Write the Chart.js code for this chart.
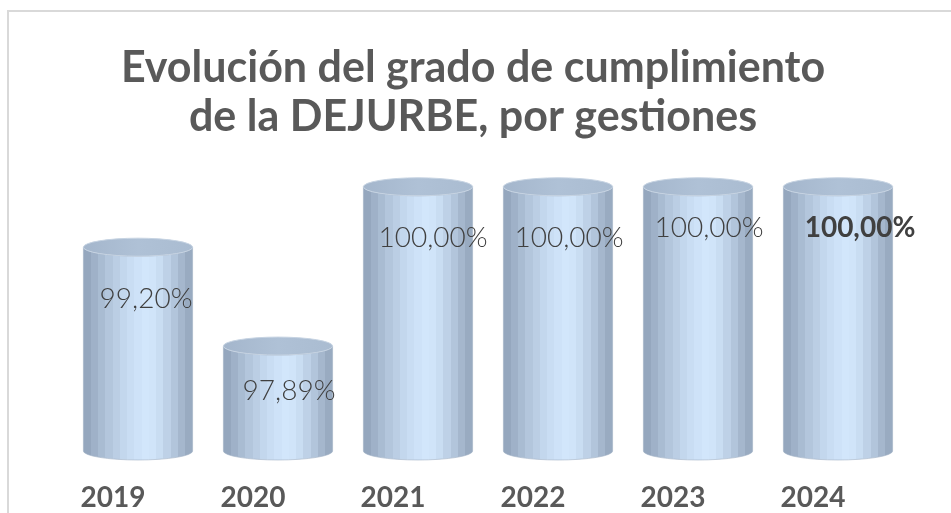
<!DOCTYPE html>
<html><head><meta charset="utf-8">
<script src="https://cdn.jsdelivr.net/npm/chart.js@4.4.1/dist/chart.umd.min.js"></script>
<style>
html,body{margin:0;padding:0;background:#fff;}
#wrap{position:relative;width:951px;height:513px;overflow:hidden;}
#frame{position:absolute;left:7px;top:10px;width:960px;height:520px;border-left:2px solid #d9d9d9;border-top:2px solid #d9d9d9;}
canvas{position:absolute;left:0;top:0;}
</style></head>
<body><div id="wrap"><div id="frame"></div><canvas id="c" width="951" height="513"></canvas></div>
<script>
// ---- data ----
const categories = ['2019', '2020', '2021', '2022', '2023', '2024'];
const values = [99.20, 97.89, 100.00, 100.00, 100.00, 100.00];
const titleLines = ['Evolución del grado de cumplimiento', 'de la DEJURBE, por gestiones'];
const yMin = 96.5;
const yMax = 100.5;

// ---- styling ----
const labelOffsets = [[8, 50], [11, 43], [15, 49], [11, 49], [11, 39], [22, 39]]; // label centre relative to cylinder top
const labelBold = [false, false, false, false, false, true];
const depthShift = 25;  // 3D offset of cylinders to the right of the category label
const bands = ['#95a7be','#9fb1c8','#a9bcd2','#b3c6dc','#bbcee4','#c3d7ed','#c9ddf3','#cee2f8','#d2e6fb','#d0e4f9','#c9ddf2','#bed1e7','#b2c5db','#a5b7cd','#99abc1'];

function fmt(v) { return v.toFixed(2).replace('.', ',') + '%'; }

const cylinderPlugin = {
  id: 'cylinders',
  afterDatasetsDraw(chart) {
    const ctx = chart.ctx;
    const meta = chart.getDatasetMeta(0);
    meta.data.forEach((el, i) => {
      const w = el.width;
      const cx = el.x + depthShift;
      const x0 = cx - w / 2, x1 = cx + w / 2;
      const top = el.y, bot = el.base;
      const rx = w / 2, ry = 9;
      const g = ctx.createLinearGradient(x0, 0, x1, 0);
      const n = bands.length;
      bands.forEach((c, k) => { g.addColorStop(k / n, c); g.addColorStop((k + 1) / n - 0.0001, c); });
      ctx.save();
      ctx.beginPath();
      ctx.moveTo(x0, top);
      ctx.lineTo(x0, bot);
      ctx.ellipse(cx, bot, rx, ry, 0, Math.PI, 0, true);
      ctx.lineTo(x1, top);
      ctx.ellipse(cx, top, rx, ry, 0, 0, Math.PI, false);
      ctx.closePath();
      ctx.fillStyle = g;
      ctx.fill();
      ctx.strokeStyle = 'rgba(160,176,196,0.6)';
      ctx.lineWidth = 1;
      ctx.stroke();
      const gt = ctx.createLinearGradient(x0, 0, x1, 0);
      gt.addColorStop(0, '#a4b6cc');
      gt.addColorStop(0.5, '#afc1d6');
      gt.addColorStop(1, '#aabcd1');
      ctx.beginPath();
      ctx.ellipse(cx, top, rx, ry, 0, 0, Math.PI * 2);
      ctx.fillStyle = gt;
      ctx.fill();
      ctx.strokeStyle = '#c6d3e2';
      ctx.stroke();
      const [dx, dy] = labelOffsets[i];
      ctx.font = (labelBold[i] ? 'bold ' : '300 ') + '28px Lato, "Open Sans", sans-serif';
      ctx.fillStyle = '#404040';
      ctx.textAlign = 'center';
      ctx.textBaseline = 'alphabetic';
      ctx.fillText(fmt(values[i]), cx + dx, top + dy + 11);
      ctx.restore();
    });
  }
};

new Chart(document.getElementById('c'), {
  type: 'bar',
  data: {
    labels: categories,
    datasets: [{
      data: values,
      backgroundColor: 'rgba(0,0,0,0)',
      borderWidth: 0,
      base: yMin,
      barPercentage: 0.78,
      categoryPercentage: 1.0
    }]
  },
  options: {
    responsive: false,
    animation: false,
    devicePixelRatio: 1,
    layout: { padding: { top: 34, left: 43, right: 48, bottom: 1 } },
    plugins: {
      legend: { display: false },
      tooltip: { enabled: false },
      title: {
        display: true,
        text: titleLines,
        color: '#595959',
        font: { family: 'Lato, "Open Sans", sans-serif', size: 43, weight: 'bold', lineHeight: 1.14 },
        padding: { top: 10, bottom: 7 }
      }
    },
    scales: {
      y: {
        display: true, position: 'right', min: yMin, max: yMax,
        ticks: { display: false }, grid: { display: false, drawTicks: false }, border: { display: false },
        afterFit: s => { s.width = 20; }
      },
      x: {
        grid: { display: false, drawTicks: false },
        border: { display: false },
        afterFit: s => { s.height = 61; },
        ticks: {
          color: '#595959',
          padding: 33,
          font: { family: 'Lato, "Open Sans", sans-serif', size: 28, weight: 'bold', lineHeight: 1 }
        }
      }
    }
  },
  plugins: [cylinderPlugin]
});
</script>
</body></html>
